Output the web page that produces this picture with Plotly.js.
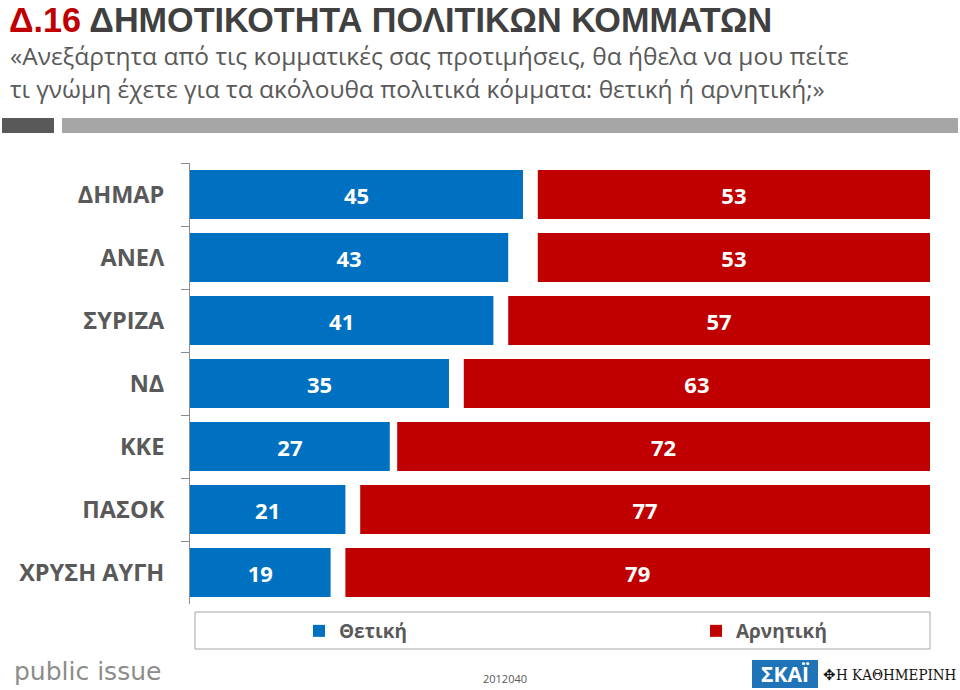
<!DOCTYPE html>
<html>
<head>
<meta charset="utf-8">
<script src="https://cdn.plot.ly/plotly-3.0.1.min.js"></script>
<style>html,body{margin:0;padding:0;background:#fff;}#chart{width:960px;height:690px;}</style>
</head>
<body>
<div id="chart"></div>
<script>
const categories = ['ΔΗΜΑΡ','ΑΝΕΛ','ΣΥΡΙΖΑ','ΝΔ','ΚΚΕ','ΠΑΣΟΚ','ΧΡΥΣΗ ΑΥΓΗ'];
const positive = [45,43,41,35,27,21,19];
const negative = [53,53,57,63,72,77,79];
const seriesNames = ['Θετική','Αρνητική'];

const W = 960, H = 690;
const L = 190, R = 30, T = 163, B = 86;
const pw = W - L - R, ph = H - T - B;
const px = x => (x - L) / pw;
const py = y => (H - B - y) / ph;

const FONT = 'Open Sans, Noto Sans, sans-serif';
const BLUE = '#0070C0', RED = '#C00000';

const traces = [
  {
    type: 'bar', orientation: 'h', name: seriesNames[0], legend: 'legend',
    y: categories, x: positive, base: 0,
    marker: {color: BLUE},
    width: 0.78,
    text: positive.map(String), textposition: 'inside', insidetextanchor: 'middle',
    constraintext: 'none',
    textfont: {family: FONT, size: 22, color: '#ffffff', weight: 'bold'},
    hoverinfo: 'skip'
  },
  {
    type: 'bar', orientation: 'h', name: seriesNames[1], legend: 'legend2',
    y: categories, x: negative, base: negative.map(v => 100 - v),
    marker: {color: RED},
    width: 0.78,
    text: negative.map(String), textposition: 'inside', insidetextanchor: 'middle',
    constraintext: 'none',
    textfont: {family: FONT, size: 22, color: '#ffffff', weight: 'bold'},
    hoverinfo: 'skip'
  }
];

const shapes = [
  {type: 'rect', xref: 'paper', yref: 'paper', x0: px(2), x1: px(54), y0: py(118), y1: py(133), fillcolor: '#595959', line: {width: 0}, layer: 'above'},
  {type: 'rect', xref: 'paper', yref: 'paper', x0: px(62), x1: px(958), y0: py(118), y1: py(133), fillcolor: '#A6A6A6', line: {width: 0}, layer: 'above'},
  {type: 'rect', xref: 'paper', yref: 'paper', x0: px(195), x1: px(930), y0: py(612), y1: py(649), fillcolor: 'rgba(0,0,0,0)', line: {width: 1, color: '#A6A6A6'}},
  {type: 'rect', xref: 'paper', yref: 'paper', x0: px(752), x1: px(818), y0: py(660), y1: py(688), fillcolor: '#1F73B7', line: {width: 0}}
];

const annotations = [
  {xref: 'paper', yref: 'paper', x: px(8), y: py(0), xanchor: 'left', yanchor: 'top', showarrow: false,
   borderpad: 0,
   text: '<span style="color:#C00000">Δ.16</span> ΔΗΜΟΤΙΚΟΤΗΤΑ ΠΟΛΙΤΙΚΩΝ ΚΟΜΜΑΤΩΝ',
   font: {family: 'Liberation Sans, Arial, sans-serif', size: 34.2, color: '#404040', weight: 'bold'}},
  {xref: 'paper', yref: 'paper', x: px(8), y: py(55.5), xanchor: 'left', yanchor: 'middle', showarrow: false,
   text: '«Ανεξάρτητα από τις κομματικές σας προτιμήσεις, θα ήθελα να μου πείτε',
   font: {family: FONT, size: 24.5, color: '#595959'}},
  {xref: 'paper', yref: 'paper', x: px(8), y: py(88.5), xanchor: 'left', yanchor: 'middle', showarrow: false,
   text: 'τι γνώμη έχετε για τα ακόλουθα πολιτικά κόμματα: θετική ή αρνητική;»',
   font: {family: FONT, size: 24.5, color: '#595959'}},
  {xref: 'paper', yref: 'paper', x: px(505), y: py(678), xanchor: 'center', yanchor: 'middle', showarrow: false,
   text: '2012040', font: {family: FONT, size: 11, color: '#595959'}},
  {xref: 'paper', yref: 'paper', x: px(12), y: py(671), xanchor: 'left', yanchor: 'middle', showarrow: false,
   text: 'public issue', font: {family: 'DejaVu Sans, sans-serif', size: 25, color: '#8C8C8C'}},
  {xref: 'paper', yref: 'paper', x: px(785), y: py(674), xanchor: 'center', yanchor: 'middle', showarrow: false,
   text: 'ΣΚΑΪ', font: {family: FONT, size: 21, color: '#ffffff', weight: 'bold'}},
  {xref: 'paper', yref: 'paper', x: px(959), y: py(675), xanchor: 'right', yanchor: 'middle', showarrow: false,
   text: '✥Η ΚΑΘΗΜΕΡΙΝΗ', font: {family: 'DejaVu Serif Condensed, Liberation Serif, serif', size: 15, color: '#111111'}}
];

const legendBase = {
  orientation: 'h', xanchor: 'left', y: py(631), yanchor: 'middle',
  font: {family: FONT, size: 19, color: '#595959', weight: 'bold'},
  bgcolor: 'rgba(0,0,0,0)', borderwidth: 0
};

const layout = {
  width: W, height: H,
  margin: {l: L, r: R, t: T, b: B, pad: 0},
  paper_bgcolor: '#ffffff', plot_bgcolor: '#ffffff',
  barmode: 'overlay',
  showlegend: true,
  legend: Object.assign({}, legendBase, {x: px(299)}),
  legend2: Object.assign({}, legendBase, {x: px(696)}),
  xaxis: {range: [0, 100], visible: false, fixedrange: true},
  yaxis: {
    type: 'category', autorange: 'reversed',
    showline: true, linecolor: '#8C8C8C', linewidth: 1,
    ticks: 'outside', tickson: 'boundaries', ticklen: 8, tickcolor: '#8C8C8C',
    ticklabelstandoff: 20,
    tickfont: {family: FONT, size: 23.5, color: '#595959', weight: 'bold'},
    showgrid: false, zeroline: false
  },
  shapes: shapes,
  annotations: annotations
};

Plotly.newPlot('chart', traces, layout, {displayModeBar: false, staticPlot: true});
</script>
</body>
</html>
